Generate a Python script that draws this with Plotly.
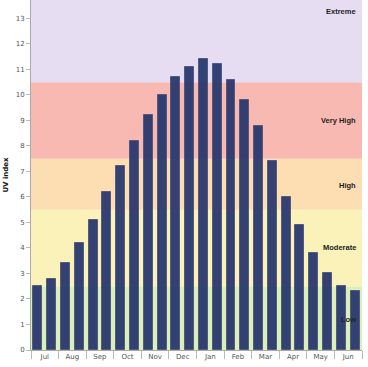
import plotly.graph_objects as go
import numpy as np

months = ["Jul", "Aug", "Sep", "Oct", "Nov", "Dec", "Jan", "Feb", "Mar", "Apr", "May", "Jun"]
uv_values = [2.5, 2.8, 3.4, 4.2, 5.1, 6.2, 7.2, 8.2, 9.2, 10.0, 10.7, 11.1,
             11.4, 11.2, 10.6, 9.8, 8.8, 7.4, 6.0, 4.9, 3.8, 3.0, 2.5, 2.3]
band_names = ["Low", "Moderate", "High", "Very High", "Extreme"]
band_lower = [0, 2.5, 5.5, 7.5, 10.5]
band_upper = [2.5, 5.5, 7.5, 10.5, 16]
band_label_y = [1.2, 4.0, 6.45, 9.0, 13.25]
band_colors = ["#daf0b9", "#faf2b9", "#fddeb2", "#f8b9b2", "#e6ddf3"]
y_max = 13.72

n = len(uv_values)
x_pos = np.arange(n) + 0.5

fig = go.Figure()
fig.add_trace(go.Bar(
    x=x_pos, y=uv_values, width=0.65, opacity=0.92,
    marker=dict(color="#23346c", line=dict(color="#4a4f7a", width=1)),
    showlegend=False, hoverinfo="y",
))

shapes = []
annotations = []
for name, lo, hi, ly, col in zip(band_names, band_lower, band_upper, band_label_y, band_colors):
    shapes.append(dict(type="rect", xref="x domain", yref="y", x0=0, x1=1, y0=lo, y1=min(hi, y_max),
                       fillcolor=col, line=dict(width=0), layer="below"))
    annotations.append(dict(text="<b>%s</b>" % name, xref="paper", yref="y", x=0.987, y=ly,
                            xanchor="right", yanchor="middle", showarrow=False,
                            font=dict(family="Liberation Sans", size=7.5, color="#222")))

fig.update_layout(
    width=368, height=367,
    margin=dict(l=31, r=6, t=0, b=17, autoexpand=False),
    paper_bgcolor="white", plot_bgcolor="white",
    shapes=shapes, annotations=annotations,
    bargap=0,
    font=dict(family="DejaVu Sans", size=7, color="#555"),
    xaxis=dict(range=[0, n], tickmode="array",
               tickvals=[2 * i + 1 for i in range(len(months))], ticktext=months,
               ticks="", showgrid=False, zeroline=False, showline=True, linecolor="#aaa",
               minor=dict(tickmode="linear", tick0=0, dtick=2, ticks="outside", ticklen=8,
                          tickcolor="#bbb", showgrid=False),
               tickfont=dict(size=7, color="#555")),
    yaxis=dict(range=[0, y_max], dtick=1, tick0=0, ticks="outside", ticklen=4, tickcolor="#bbb",
               showgrid=False, zeroline=False, showline=True, linecolor="#aaa",
               tickfont=dict(size=7, color="#555"),
               title=dict(text="<b>UV index</b>", font=dict(size=7, color="#111"), standoff=6)),
    yaxis2=dict(range=[0, y_max], overlaying="y", side="right", anchor="x",
                tickmode="array", tickvals=band_lower[1:], ticks="outside", ticklen=4,
                tickcolor="#bbb", showticklabels=False, showgrid=False, zeroline=False,
                showline=True, linecolor="#ddd"),
)

fig.write_html("out.html", config={"displayModeBar": False},
               post_script="document.body.style.margin='0';document.body.style.padding='0';")
